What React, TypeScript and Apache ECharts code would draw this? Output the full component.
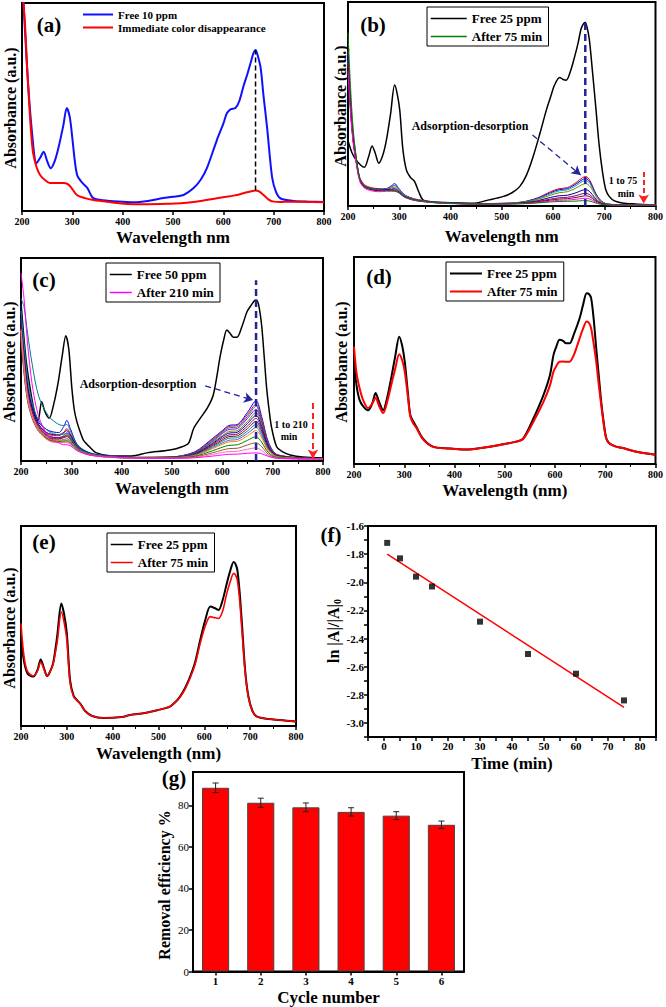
import React, { useEffect, useRef } from 'react';
import * as echarts from 'echarts';

const FONT = "'Liberation Serif', 'Times New Roman', serif";

// ---------- (a) ----------
const aFreeX = [200, 210, 220, 229, 237, 243, 250, 257, 265, 273, 282, 289, 295, 300, 305, 310, 320, 330, 340, 350, 375, 400, 422, 450, 475, 500, 521, 541, 555, 568, 587, 600, 607, 615, 624, 632, 640, 648, 654, 660, 664, 668, 674, 680, 687, 697, 705, 714, 740, 770, 800];
const aFreeY = [115, 69, 37.5, 23, 26, 28.5, 24, 20.6, 24, 31, 41, 49.5, 45, 35, 24, 17, 13.5, 11, 6.5, 5.5, 4.8, 4.5, 4.2, 4.8, 6, 6.8, 7.7, 11, 15, 21, 34, 42, 47, 49, 49.5, 53, 60, 66, 71, 76, 77.4, 75, 69, 55, 40, 16, 9, 6, 4.8, 4.5, 4.3];
const aRedX = [200, 203, 206, 210, 214, 218, 222, 229, 236, 245, 256, 270, 283, 290, 297, 309, 325, 342, 370, 409, 450, 490, 521, 555, 587, 605, 620, 635, 647, 656, 664, 670, 680, 690, 700, 715, 727, 760, 800];
const aRedY = [130, 100, 90, 70, 53, 38, 28, 21, 17.3, 15, 13.5, 13.5, 13.5, 13, 11.5, 7.7, 6.2, 5.3, 4.4, 3.4, 3.3, 3.5, 3.8, 4.8, 6.1, 6.8, 7.4, 8.2, 9, 9.5, 9.8, 9.5, 7.7, 5.5, 4.5, 4.3, 4.5, 4.4, 4.2];
const aGuideX = [664, 664];
const aGuideY = [9.8, 77.4];

// ---------- (b) ----------
const bFreeX = [200, 208, 216, 225, 232, 240, 247, 253, 260, 268, 275, 283, 291, 296, 301, 307, 314, 322, 330, 338, 346, 360, 398, 443, 475, 502, 520, 535, 548, 561, 575, 587, 596, 603, 613, 620, 626, 634, 642, 649, 655, 660, 663, 667, 671, 677, 684, 690, 697, 703, 710, 720, 735, 760, 800];
const bFreeY = [32, 26, 22.5, 20, 19, 24, 29.4, 26, 21, 25, 32.4, 45, 59.3, 55, 47, 28, 17.6, 14, 12, 7, 3, 2, 1.6, 1.3, 3, 4.6, 6.5, 9.5, 15, 24, 36, 47, 54, 59.3, 63, 62, 61.7, 66, 73, 80, 87, 89.5, 90, 87, 81.4, 66, 47, 30, 16, 8, 4.6, 2.5, 1.5, 1, 0.5];
const bAfterX = [200, 205, 210, 216, 223, 232, 245, 260, 275, 285, 291, 298, 310, 330, 360, 400, 450, 500, 540, 570, 595, 612, 628, 645, 657, 664, 672, 682, 692, 705, 740, 800];
const bAfterNames = ['b 1 min', 'b 5 min', 'b 10 min', 'b 15 min', 'b 30 min', 'b 45 min', 'b 60 min', 'b 70 min', 'After 75 min'];
const bAfterColors = ['#ff0000', '#0000ff', '#00b0b0', '#808000', '#000080', '#800080', '#800000', '#ff00ff', '#008000'];
const bAfterY = [
  [76, 52, 36, 24, 14, 10.5, 9, 8.5, 8.3, 9.5, 10, 8.5, 5.5, 3.5, 2.3, 1.5, 1.2, 1.3, 2, 4, 7, 8.5, 9, 11.5, 13.8, 14.5, 12.5, 7, 3, 1, 0.6, 0.5],
  [74, 50, 34, 23, 13.5, 10, 8.7, 8.2, 8.5, 10, 11, 9, 5.5, 3.3, 2.2, 1.5, 1.2, 1.3, 1.9, 3.8, 6.5, 8, 8.5, 10.8, 12.9, 13.5, 11.8, 6.6, 2.9, 1, 0.6, 0.5],
  [72, 49, 33, 22.5, 13.2, 9.8, 8.6, 8, 8.2, 9.5, 10.2, 8.6, 5.3, 3.2, 2.1, 1.4, 1.1, 1.2, 1.8, 3.5, 6, 7.4, 7.9, 10, 12, 12.5, 11, 6.2, 2.7, 1, 0.6, 0.5],
  [70, 47, 32, 22, 13, 9.6, 8.4, 7.8, 8, 9, 9.2, 8, 5, 3, 2, 1.4, 1.1, 1.2, 1.7, 3.2, 5.3, 6.5, 7, 8.8, 10.5, 11, 9.7, 5.5, 2.4, 0.9, 0.6, 0.5],
  [73, 49, 33, 22.5, 13, 9.6, 8.4, 7.8, 8, 8.3, 8.5, 7.5, 4.8, 3, 2, 1.4, 1.1, 1.1, 1.5, 2.6, 4.2, 5, 5.3, 6.5, 7.7, 8, 7, 4, 1.8, 0.8, 0.6, 0.5],
  [71, 48, 32.5, 22, 12.8, 9.4, 8.2, 7.6, 7.8, 8, 8, 7.2, 4.6, 2.9, 1.9, 1.3, 1, 1.1, 1.4, 2.2, 3.4, 4, 4.3, 5.1, 6, 6.2, 5.5, 3.2, 1.5, 0.7, 0.5, 0.5],
  [69, 47, 32, 21.5, 12.5, 9.2, 8, 7.4, 7.6, 7.7, 7.6, 6.9, 4.5, 2.8, 1.9, 1.3, 1, 1, 1.3, 2, 2.9, 3.4, 3.6, 4.2, 4.8, 5, 4.5, 2.7, 1.3, 0.7, 0.5, 0.5],
  [66, 45, 31, 21, 12, 8.8, 7.5, 7, 7.2, 7.3, 7.2, 6.6, 4.3, 2.7, 1.8, 1.2, 0.9, 0.9, 1.2, 1.7, 2.4, 2.8, 2.9, 3.3, 3.7, 3.8, 3.4, 2.1, 1.1, 0.6, 0.5, 0.5],
  [85, 58, 38, 24, 13.5, 9.8, 8.5, 7.8, 7.6, 7.4, 7.3, 6.8, 4.6, 2.9, 1.9, 1.3, 1, 1, 1.1, 1.5, 2, 2.2, 2.3, 2.4, 2.6, 2.6, 2.4, 1.6, 0.9, 0.6, 0.5, 0.5],
];
const bGuideX = [663, 663];
const bGuideY = [0, 90.5];

// ---------- (c) ----------
const cFreeX = [200, 210, 220, 228, 234, 241, 248, 256, 265, 274, 282, 289, 295, 301, 306, 311, 318, 324, 336, 350, 380, 420, 450, 496, 520, 533, 543, 556, 570, 582, 596, 603, 609, 615, 622, 629, 640, 649, 658, 664, 667, 672, 678, 683, 688, 693, 698, 708, 720, 735, 760, 800];
const cFreeY = [78, 50, 33, 23, 20, 29.2, 24, 21, 28, 39, 52, 61.7, 55, 36, 25, 19.4, 14, 10.3, 7, 4, 2.5, 2.5, 4, 5.4, 7, 8.8, 16, 21, 26, 32.5, 52, 60, 64.5, 63, 61, 61, 67, 73.5, 77, 79, 79.3, 77, 67, 52, 36, 25, 16.3, 7, 4.5, 3, 2, 1.5];
const cAfterX = [200, 206, 213, 222, 235, 255, 275, 285, 291, 298, 312, 335, 370, 430, 500, 545, 580, 600, 613, 630, 650, 667, 678, 692, 710, 800];
const cAfterNames = ['c 1 min', 'c 5 min', 'c 10 min', 'c 15 min', 'c 30 min', 'c 45 min', 'c 60 min', 'c 75 min', 'c 90 min', 'c 105 min', 'c 120 min', 'c 150 min', 'c 180 min', 'c 195 min', 'After 210 min'];
const cAfterColors = ['#0000ff', '#ff0000', '#008080', '#8000ff', '#808000', '#000080', '#800080', '#800000', '#008b8b', '#4169e1', '#ff8000', '#008000', '#a0522d', '#ff69b4', '#ff00ff'];
const cAfterY = [
  [76, 55, 38, 27, 19, 15, 14, 17, 20, 16, 8, 4, 2.5, 1.8, 2, 4.5, 11, 15, 17.5, 18, 24, 29.7, 22, 9, 3, 1.2],
  [70, 52, 36, 26, 18, 13, 12.5, 14, 16, 13.5, 7.5, 4, 2.5, 1.8, 2, 4.3, 10.5, 14.5, 17, 17.5, 23, 28, 21, 8.5, 3, 1.2],
  [80, 76, 63, 48, 32, 22, 18, 17.5, 18, 15, 8, 4.2, 2.6, 1.8, 2, 4.2, 10, 14, 16.3, 16.8, 22, 27, 20, 8.2, 2.9, 1.2],
  [66, 48, 33, 24, 17, 12, 11.5, 12.5, 14, 12, 7, 3.8, 2.4, 1.7, 1.9, 4, 9.5, 13.5, 15.5, 16, 21, 25.5, 19, 7.8, 2.8, 1.1],
  [64, 47, 32, 23, 16.5, 11.5, 11, 12, 13, 11.5, 6.8, 3.7, 2.3, 1.7, 1.9, 3.8, 9, 12.5, 14.5, 15, 19.5, 24, 18, 7.4, 2.7, 1.1],
  [72, 54, 37, 26, 18, 13.5, 13, 14, 15, 12.8, 7.2, 3.9, 2.4, 1.7, 1.8, 3.6, 8.5, 12, 13.7, 14.2, 18.5, 22.5, 17, 7, 2.6, 1.1],
  [68, 50, 34, 24.5, 17, 12.3, 11.6, 12, 12.5, 11, 6.6, 3.6, 2.3, 1.6, 1.8, 3.4, 8, 11.2, 12.8, 13.3, 17.2, 21, 16, 6.6, 2.5, 1.1],
  [63, 46, 31, 22.5, 16, 11.2, 10.8, 11.5, 12, 10.5, 6.4, 3.5, 2.2, 1.6, 1.7, 3.2, 7.5, 10.4, 12, 12.4, 16, 19.5, 14.8, 6.1, 2.4, 1],
  [74, 58, 41, 29, 20, 14.5, 13, 13.2, 13.5, 11.5, 6.8, 3.7, 2.3, 1.6, 1.7, 3, 7, 9.7, 11.2, 11.5, 14.8, 18, 13.7, 5.7, 2.2, 1],
  [62, 45, 31, 22, 15.5, 10.8, 10.2, 10.6, 11, 9.7, 6, 3.4, 2.2, 1.5, 1.6, 2.8, 6.5, 8.9, 10.2, 10.6, 13.6, 16.5, 12.6, 5.3, 2.1, 1],
  [65, 48, 32.5, 23, 16, 11, 10, 10.3, 10.5, 9.4, 5.8, 3.3, 2.1, 1.5, 1.6, 2.6, 6, 8.2, 9.4, 9.7, 12.4, 15, 11.5, 4.9, 2, 1],
  [61, 44, 30, 21.5, 15, 10.5, 9.6, 9.8, 10, 9, 5.6, 3.2, 2, 1.4, 1.5, 2.3, 5, 6.8, 7.7, 8, 10.2, 12, 9.3, 4, 1.7, 0.9],
  [60, 43, 29.5, 21, 14.5, 10.2, 9.2, 9.3, 9.5, 8.6, 5.4, 3.1, 2, 1.4, 1.4, 2, 4, 5.4, 6.1, 6.3, 7.9, 9, 7.1, 3.2, 1.5, 0.9],
  [64, 46, 31, 22, 15, 10, 9, 9, 9, 8.3, 5.2, 3, 1.9, 1.3, 1.3, 1.7, 3.2, 4.2, 4.6, 4.8, 5.8, 6.5, 5.2, 2.5, 1.3, 0.8],
  [92.6, 80, 58, 38, 22, 12, 9, 8, 8, 7.5, 5, 3, 2, 1.4, 1.3, 1.6, 2.4, 3, 3.3, 3.4, 3.8, 4, 3.6, 2.2, 1.3, 0.9],
];
const cGuideX = [667, 667];
const cGuideY = [0, 89];

// ---------- (d) ----------
const dX = [200, 205, 211, 218, 228, 236, 243, 250, 258, 266, 274, 282, 290, 296, 301, 307, 312, 318, 324, 337, 357, 390, 423, 460, 490, 523, 537, 557, 577, 590, 597, 603, 609, 616, 622, 629, 638, 649, 656, 663, 668, 672, 677, 682, 687, 692, 697, 702, 708, 720, 735, 760, 800];
const dFreeY = [49.4, 38, 31, 28, 26, 29, 34.3, 30, 26, 32, 41.5, 52, 61.5, 57, 49.4, 35, 23.7, 20.5, 18, 12.4, 8.4, 7.5, 7, 8, 9.2, 10.8, 12.4, 22, 33.3, 43, 52.7, 57, 60, 59.5, 58.3, 58.3, 63, 70.4, 77, 82.5, 82, 80, 70, 56, 43, 30, 20, 12.4, 10, 8.5, 7.7, 6, 4.5];
const dAfterY = [56.7, 44, 36.7, 31, 27, 29, 32, 28, 24.6, 30, 38, 46, 53, 50, 44.6, 33, 23, 19.5, 17.5, 12, 8.3, 7.5, 7, 8, 9.2, 10.8, 12.2, 20.4, 30, 38, 44.6, 47.5, 49.4, 49.5, 49.4, 49.4, 53, 60.7, 65.5, 68.8, 68, 65.5, 58, 49.4, 38.5, 28.5, 19, 12.4, 10, 8.5, 7.7, 6, 4.5];

// ---------- (e) ----------
const eX = [200, 204, 209, 215, 227, 236, 243, 250, 257, 263, 270, 279, 288, 294, 300, 307, 315, 322, 330, 340, 355, 380, 420, 438, 470, 499, 525, 537, 547, 558, 569, 580, 591, 602, 613, 622, 631, 640, 649, 657, 664, 668, 672, 677, 682, 689, 696, 705, 715, 740, 765, 800];
const eFreeY = [43, 36, 29.7, 26, 24.7, 28, 33.3, 29, 25, 27, 31.3, 45, 61.3, 56, 46.3, 23, 15, 13, 11, 7.5, 5, 4, 4.5, 5.5, 6.5, 8, 9.7, 12, 14.7, 19, 24.7, 32, 43, 53, 59.7, 59, 58, 63, 71.3, 78, 82, 81, 78, 67, 51.3, 28, 15, 7.5, 4.7, 3.5, 3, 2.2];
const eAfterY = [51.3, 40, 31.3, 27, 25, 27.5, 32, 28.5, 25, 27, 30.8, 42, 57, 52, 43, 21.5, 14.5, 12.8, 10.8, 7.4, 5, 4, 4.5, 5.5, 6.5, 8, 9.7, 12, 14.5, 18.5, 24, 31, 41.3, 50, 54.7, 54.2, 53.8, 57.5, 66.3, 72.5, 76.3, 75.5, 73, 63, 48, 27, 14.5, 7.5, 4.7, 3.5, 3, 2.2];

// ---------- (f) ----------
const fTime = [1, 5, 10, 15, 30, 45, 60, 75];
const fLnRatio = [-1.72, -1.83, -1.96, -2.03, -2.28, -2.51, -2.65, -2.84];
const fFitTime = [1, 75];
const fFitLn = [-1.8, -2.89];

// ---------- (g) ----------
const cycles = ['1', '2', '3', '4', '5', '6'];
const removal = [88.4, 81.2, 79.0, 76.8, 75.0, 70.6];
const removalErr = [2.3, 2.2, 2.1, 2.0, 1.9, 1.8];

const zip = (xs: number[], ys: number[]) => xs.map((x, i) => [x, ys[i]]);

function spec(name: string, gi: number, xs: number[], ys: number[], color: string, width: number, z = 2) {
  return {
    type: 'line', name, xAxisIndex: gi, yAxisIndex: gi, data: zip(xs, ys),
    symbol: 'none', showSymbol: false, smooth: 0.3, clip: true, silent: true, z,
    lineStyle: { color, width }, itemStyle: { color },
    emphasis: { disabled: true },
  };
}

function wlAxis(gi: number, name: string, nameGap: number, minor: boolean) {
  return {
    type: 'value', gridIndex: gi, min: 200, max: 800, interval: 100,
    axisLine: { show: true, onZero: false, lineStyle: { color: '#000', width: 2 } },
    axisTick: { show: true, inside: false, length: 4, lineStyle: { color: '#000', width: 1.5 } },
    minorTick: { show: minor, splitNumber: 2, length: 3, lineStyle: { color: '#000', width: 1 } },
    axisLabel: { color: '#000', fontFamily: FONT, fontWeight: 'bold', fontSize: 10, margin: 5 },
    splitLine: { show: false },
    name, nameLocation: 'middle', nameGap,
    nameTextStyle: { color: '#000', fontFamily: FONT, fontWeight: 'bold', fontSize: 17 },
  };
}

function absAxis(gi: number) {
  return {
    type: 'value', gridIndex: gi, min: 0, max: 100,
    axisLine: { show: true, onZero: false, lineStyle: { color: '#000', width: 2 } },
    axisTick: { show: false }, axisLabel: { show: false }, splitLine: { show: false },
  };
}

function txt(text: string, x: number, y: number, font: string, rotation = 0) {
  return {
    type: 'text', x, y, rotation, silent: true,
    style: { text, font, fill: '#000', align: 'center', verticalAlign: 'middle', textAlign: 'center', textVerticalAlign: 'middle' },
  };
}

function legendBox(left: number, top: number, itemWidth: number, items: { name: string; color: string }[], fontSize: number, border: boolean, lineW: number) {
  return {
    left, top, orient: 'vertical', itemWidth, itemHeight: 12, itemGap: border ? 5 : 2,
    padding: border ? [5, 6, 3, 3] : 0,
    borderColor: border ? '#000' : 'transparent', borderWidth: border ? 1 : 0,
    selectedMode: false,
    textStyle: { fontFamily: FONT, fontWeight: 'bold', fontSize, color: '#000' },
    data: items.map((it) => ({
      name: it.name,
      itemStyle: { color: 'rgba(0,0,0,0)', borderWidth: 0, opacity: 0 },
      lineStyle: { color: it.color, width: lineW, opacity: 1 },
    })),
  };
}

function buildOption() {
  const grids = [
    { left: 22, top: 3, width: 302, height: 208 },
    { left: 348, top: 2, width: 308, height: 204 },
    { left: 21, top: 258, width: 302, height: 203 },
    { left: 354, top: 257, width: 302, height: 207 },
    { left: 21, top: 526, width: 275, height: 200 },
    { left: 368, top: 526, width: 288, height: 211 },
    { left: 193, top: 772, width: 271, height: 200 },
  ].map((g) => ({ ...g, show: true, borderColor: '#000', borderWidth: 2, backgroundColor: 'transparent' }));

  const series: any[] = [];
  // (a)
  series.push(spec('Free 10 ppm', 0, aFreeX, aFreeY, '#1010ff', 2));
  series.push(spec('Immediate color disappearance', 0, aRedX, aRedY, '#ff0000', 2));
  series.push({ ...spec('guide-a', 0, aGuideX, aGuideY, '#000', 1.5, 3), smooth: false, lineStyle: { color: '#000', width: 1.5, type: [5, 3] } });
  // (b)
  series.push(spec('Free 25 ppm', 1, bFreeX, bFreeY, '#000', 1.5));
  bAfterY.forEach((ys, i) => series.push(spec(bAfterNames[i], 1, bAfterX, ys, bAfterColors[i], 1)));
  series.push({
    ...spec('guide-b', 1, bGuideX, bGuideY, '#23239a', 2.5, 4), smooth: false,
    lineStyle: { color: '#23239a', width: 2.5, type: [7, 4] },
    markLine: {
      silent: true, symbol: ['none', 'arrow'], symbolSize: [8, 9], label: { show: false },
      data: [
        [{ coord: [560, 34.8], lineStyle: { color: '#23239a', width: 1.3, type: [6, 4] } }, { coord: [654, 15.2] }],
        [{ coord: [777, 16.7], lineStyle: { color: '#ff2020', width: 2, type: [5, 3] } }, { coord: [777, 1.2] }],
      ],
    },
  });
  // (c)
  series.push(spec('Free 50 ppm', 2, cFreeX, cFreeY, '#000', 1.5));
  cAfterY.forEach((ys, i) => series.push(spec(cAfterNames[i], 2, cAfterX, ys, cAfterColors[i], 1)));
  series.push({
    ...spec('guide-c', 2, cGuideX, cGuideY, '#23239a', 2.5, 4), smooth: false,
    lineStyle: { color: '#23239a', width: 2.5, type: [7, 4] },
    markLine: {
      silent: true, symbol: ['none', 'arrow'], symbolSize: [8, 9], label: { show: false },
      data: [
        [{ coord: [566, 37], lineStyle: { color: '#23239a', width: 1.3, type: [6, 4] } }, { coord: [661, 30] }],
        [{ coord: [780, 28.6], lineStyle: { color: '#ff2020', width: 2, type: [6, 4] } }, { coord: [780, 1.2] }],
      ],
    },
  });
  // (d)
  series.push(spec('Free 25 ppm', 3, dX, dFreeY, '#000', 2));
  series.push(spec('After 75 min', 3, dX, dAfterY, '#ff0000', 2));
  // (e)
  series.push(spec('Free 25 ppm', 4, eX, eFreeY, '#000', 2));
  series.push(spec('After 75 min', 4, eX, eAfterY, '#ff0000', 1.6));
  // (f)
  series.push({
    type: 'scatter', name: 'ln ratio', xAxisIndex: 5, yAxisIndex: 5, data: zip(fTime, fLnRatio),
    symbol: 'rect', symbolSize: 6, itemStyle: { color: '#000' }, silent: true, z: 4,
  });
  series.push({ ...spec('Linear fit', 5, fFitTime, fFitLn, '#ff0000', 1.5, 3), smooth: false });
  // (g)
  series.push({
    type: 'bar', name: 'Removal efficiency', xAxisIndex: 6, yAxisIndex: 6, data: removal, barWidth: '60%',
    itemStyle: { color: '#ff0000', borderColor: '#444', borderWidth: 1 }, silent: true,
  });
  series.push({
    type: 'custom', name: 'error', xAxisIndex: 6, yAxisIndex: 6, silent: true, z: 5,
    data: removal.map((v, i) => [i, v - removalErr[i], v + removalErr[i]]),
    encode: { x: 0, y: [1, 2] },
    renderItem: (params: any, api: any) => {
      const x = api.value(0);
      const lo = api.coord([x, api.value(1)]);
      const hi = api.coord([x, api.value(2)]);
      const st = { stroke: '#222', lineWidth: 1 };
      return {
        type: 'group',
        children: [
          { type: 'line', shape: { x1: lo[0], y1: lo[1], x2: hi[0], y2: hi[1] }, style: st },
          { type: 'line', shape: { x1: lo[0] - 3, y1: lo[1], x2: lo[0] + 3, y2: lo[1] }, style: st },
          { type: 'line', shape: { x1: hi[0] - 3, y1: hi[1], x2: hi[0] + 3, y2: hi[1] }, style: st },
        ],
      };
    },
  });

  const xAxis: any[] = [
    wlAxis(0, 'Wavelength nm', 17.5, false),
    wlAxis(1, 'Wavelength nm', 21.5, true),
    wlAxis(2, 'Wavelength nm', 18.5, true),
    wlAxis(3, 'Wavelength (nm)', 17.5, true),
    wlAxis(4, 'Wavelength (nm)', 18.5, true),
    {
      type: 'value', gridIndex: 5, min: -5, max: 85, interval: 5,
      axisLine: { show: true, onZero: false, lineStyle: { color: '#000', width: 2 } },
      axisTick: { show: true, length: 4, lineStyle: { color: '#000', width: 1.5 } },
      axisLabel: { color: '#000', fontFamily: FONT, fontWeight: 'bold', fontSize: 11, margin: 3,
        formatter: (v: number) => (Math.round(v) % 10 === 0 ? String(Math.round(v)) : '') },
      splitLine: { show: false },
      name: 'Time (min)', nameLocation: 'middle', nameGap: 17.5,
      nameTextStyle: { color: '#000', fontFamily: FONT, fontWeight: 'bold', fontSize: 17 },
    },
    {
      type: 'category', gridIndex: 6, data: cycles,
      axisLine: { show: true, onZero: false, lineStyle: { color: '#000', width: 2 } },
      axisTick: { show: true, alignWithLabel: true, length: 4, lineStyle: { color: '#000', width: 1.5 } },
      axisLabel: { color: '#000', fontFamily: FONT, fontWeight: 'bold', fontSize: 11, margin: 4 },
      name: 'Cycle number', nameLocation: 'middle', nameGap: 17.5,
      nameTextStyle: { color: '#000', fontFamily: FONT, fontWeight: 'bold', fontSize: 17 },
    },
  ];
  const yAxis: any[] = [
    absAxis(0), absAxis(1), absAxis(2), absAxis(3), absAxis(4),
    {
      type: 'value', gridIndex: 5, min: -3.1, max: -1.6, interval: 0.1,
      axisLine: { show: true, onZero: false, lineStyle: { color: '#000', width: 2 } },
      axisTick: { show: true, length: 4, lineStyle: { color: '#000', width: 1.5 } },
      axisLabel: { color: '#000', fontFamily: FONT, fontWeight: 'bold', fontSize: 11, margin: 4,
        formatter: (v: number) => (Math.round(v * 10) % 2 === 0 ? v.toFixed(1) : '') },
      splitLine: { show: false },
    },
    {
      type: 'value', gridIndex: 6, min: 0, max: 96, interval: 20,
      axisLine: { show: true, onZero: false, lineStyle: { color: '#000', width: 2 } },
      axisTick: { show: true, length: 4, lineStyle: { color: '#000', width: 1.5 } },
      axisLabel: { color: '#000', fontFamily: FONT, fontSize: 11, margin: 4, showMaxLabel: false },
      splitLine: { show: false },
    },
  ];

  const legend = [
    legendBox(82, 9, 30, [{ name: 'Free 10 ppm', color: '#1010ff' }, { name: 'Immediate color disappearance', color: '#ff0000' }], 11, false, 2),
    legendBox(427, 7, 36, [{ name: 'Free 25 ppm', color: '#000' }, { name: 'After 75 min', color: '#008000' }], 13, true, 1.5),
    legendBox(106, 263, 22, [{ name: 'Free 50 ppm', color: '#000' }, { name: 'After 210 min', color: '#ff00ff' }], 13, true, 1.5),
    legendBox(446, 262, 32, [{ name: 'Free 25 ppm', color: '#000' }, { name: 'After 75 min', color: '#ff0000' }], 13, true, 2),
    legendBox(107, 533, 22, [{ name: 'Free 25 ppm', color: '#000' }, { name: 'After 75 min', color: '#ff0000' }], 13, true, 1.5),
  ];

  const B20 = `bold 21px ${FONT}`;
  const Y16 = `bold 16px ${FONT}`;
  const graphic = [
    txt('(a)', 49, 25, B20), txt('(b)', 373, 25, B20), txt('(c)', 44, 280, B20), txt('(d)', 379, 277, B20),
    txt('(e)', 44, 542, B20), txt('(f)', 331, 535, B20), txt('(g)', 174, 778, B20),
    txt('Absorbance (a.u.)', 10, 108, Y16, Math.PI / 2),
    txt('Absorbance (a.u.)', 340, 106, Y16, Math.PI / 2),
    txt('Absorbance (a.u.)', 9, 362, Y16, Math.PI / 2),
    txt('Absorbance (a.u.)', 341, 362, Y16, Math.PI / 2),
    txt('Absorbance (a.u.)', 9, 628, Y16, Math.PI / 2),
    txt('Removal efficiency %', 164, 885, Y16, Math.PI / 2),
    {
      type: 'text', x: 333, y: 631, rotation: Math.PI / 2, silent: true,
      style: {
        text: '{m|ln |A|/|A|}{s|0}', fill: '#000', align: 'center', verticalAlign: 'middle', textAlign: 'center', textVerticalAlign: 'middle',
        rich: {
          m: { fontFamily: FONT, fontWeight: 'bold', fontSize: 16, fill: '#000' },
          s: { fontFamily: FONT, fontWeight: 'bold', fontSize: 10, fill: '#000', padding: [8, 0, 0, 0] },
        },
      },
    },
    txt('Adsorption-desorption', 470, 126, `bold 12px ${FONT}`),
    txt('1 to 75', 623, 180, `bold 10px ${FONT}`),
    txt('min', 626, 193, `bold 10px ${FONT}`),
    txt('Adsorption-desorption', 138, 384, `bold 12px ${FONT}`),
    txt('1 to 210', 291, 424, `bold 10px ${FONT}`),
    txt('min', 289, 436, `bold 10px ${FONT}`),
  ];

  return { animation: false, backgroundColor: '#fff', grid: grids, xAxis, yAxis, series, legend, graphic };
}

export default function App() {
  const ref = useRef<HTMLDivElement>(null);
  useEffect(() => {
    document.body.style.margin = '0';
    const chart = echarts.init(ref.current!, null, { renderer: 'svg' });
    chart.setOption(buildOption() as any);
    return () => chart.dispose();
  }, []);
  return <div ref={ref} style={{ width: 666, height: 1007 }} />;
}
